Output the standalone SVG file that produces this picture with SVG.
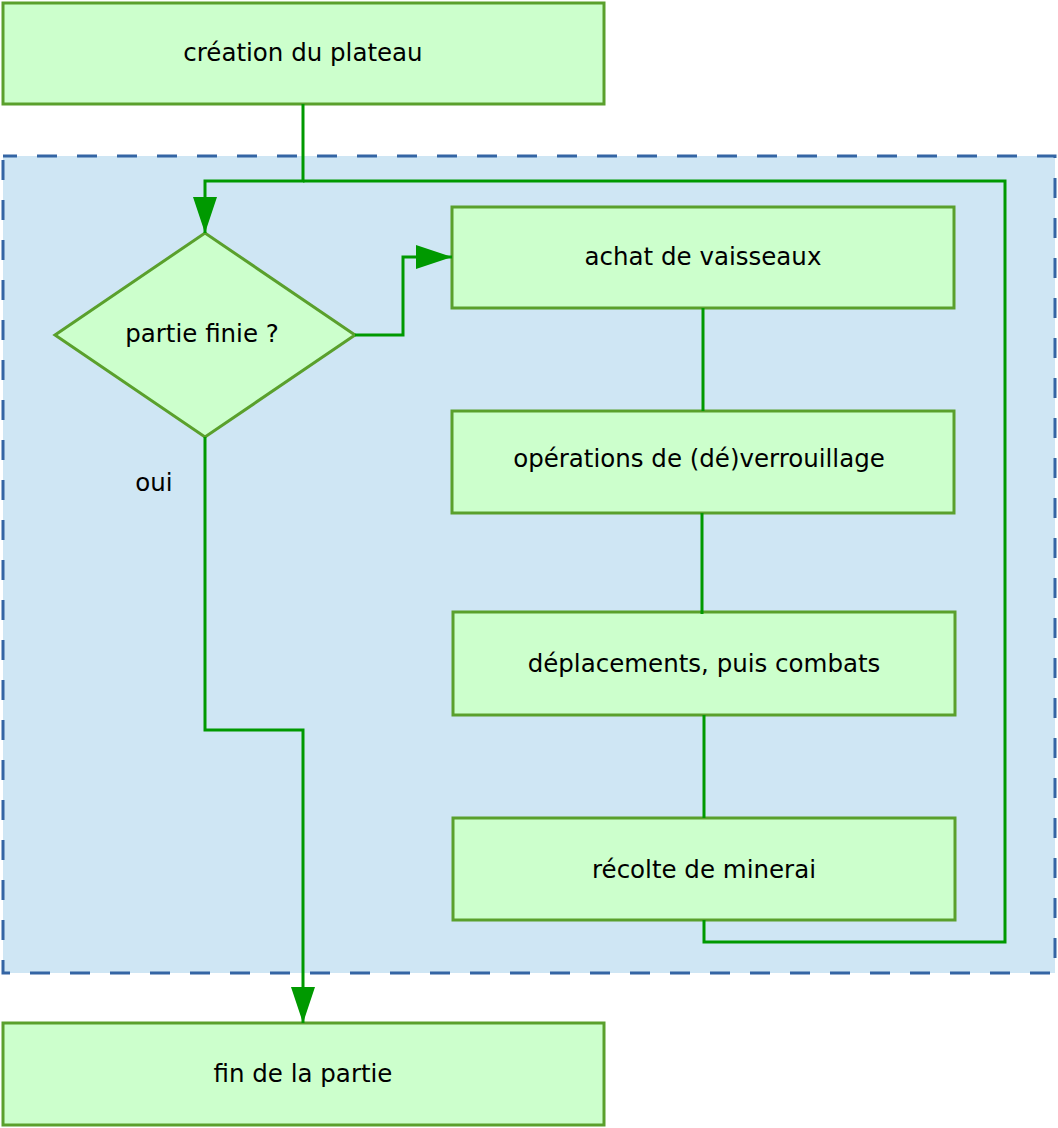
<svg xmlns="http://www.w3.org/2000/svg" width="1058" height="1128" viewBox="0 0 1058 1128">
<style>
.box{fill:#ccffcc;stroke:#5aa02c;stroke-width:3}
.lbl{font-family:"DejaVu Sans",sans-serif;font-size:24.5px;fill:#000;text-anchor:middle}
.con{fill:none;stroke:#009900;stroke-width:3}
</style>
<defs>
<marker id="arr" viewBox="0 0 36 24" refX="36" refY="12" markerWidth="36" markerHeight="24" markerUnits="userSpaceOnUse" orient="auto">
<path d="M0,0 L36,12 L0,24 Z" fill="#009900"/>
</marker>
</defs>
<rect id="cadre" x="3" y="156" width="1052" height="817" fill="#cfe6f4" stroke="#3465a4" stroke-width="3" stroke-dasharray="20,20" stroke-dashoffset="6"/>
<g id="creation"><rect class="box" x="3" y="3" width="601" height="101"/><text class="lbl" x="303" y="61">création du plateau</text></g>
<g id="partie"><path class="box" d="M55,335 L205,233 L355,335 L205,437 Z"/><text class="lbl" x="202" y="342">partie finie ?</text></g>
<g id="achat"><rect class="box" x="452" y="207" width="502" height="101"/><text class="lbl" x="703" y="265">achat de vaisseaux</text></g>
<g id="operations"><rect class="box" x="452" y="411" width="502" height="102"/><text class="lbl" x="699" y="467">opérations de (dé)verrouillage</text></g>
<g id="deplacements"><rect class="box" x="453" y="612" width="502" height="103"/><text class="lbl" x="704" y="672">déplacements, puis combats</text></g>
<g id="recolte"><rect class="box" x="453" y="818" width="502" height="102"/><text class="lbl" x="704" y="878">récolte de minerai</text></g>
<g id="fin"><rect class="box" x="3" y="1023" width="601" height="102"/><text class="lbl" x="303" y="1082">fin de la partie</text></g>
<g id="connecteurs">
<path class="con" d="M303,104 V181 H205 V233" marker-end="url(#arr)"/>
<path class="con" d="M704,920 V942 H1005 V181 H303"/>
<path class="con" d="M355,335 H403 V257 H452" marker-end="url(#arr)"/>
<path class="con" d="M703,308 V411"/>
<path class="con" d="M702,513 V614"/>
<path class="con" d="M704,715 V818"/>
<path class="con" d="M205,437 V730 H303 V1023" marker-end="url(#arr)"/>
<text class="lbl" x="154" y="491">oui</text>
</g>
</svg>
